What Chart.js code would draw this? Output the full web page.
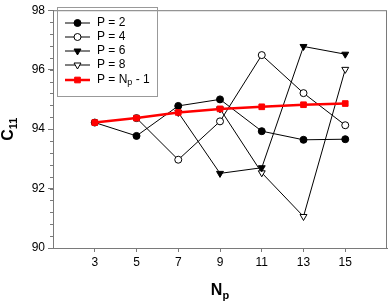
<!DOCTYPE html>
<html>
<head>
<meta charset="utf-8">
<script src="https://cdn.jsdelivr.net/npm/chart.js@4/dist/chart.umd.min.js"></script>
<style>
  body { margin: 0; background: #fff; }
  canvas { display: block; }
</style>
</head>
<body>
<canvas id="c11Chart" width="392" height="303"></canvas>
<script>
// values
const npValues = [3, 5, 7, 9, 11, 13, 15];
const p2 = [94.22, 93.77, 94.78, 95.00, 93.93, 93.64, 93.66];
const p4 = [null, 94.37, 92.97, 94.26, 96.49, 95.21, 94.13];
const p6 = [null, null, 94.56, 92.51, 92.70, 96.78, 96.52];
const p8 = [null, null, null, 94.68, 92.53, 91.06, 96.01];
const pNp = [94.22, 94.37, 94.56, 94.68, 94.75, 94.82, 94.86];
const xTicks = [3, 5, 7, 9, 11, 13, 15];
const yTicks = [90, 92, 94, 96, 98];
const legendLabels = ['P = 2', 'P = 4', 'P = 6', 'P = 8', 'P = N_p - 1'];

const FONT = '"Liberation Sans", Arial, sans-serif';

function toPoints(arr){
   return npValues.map((x, i) => ({x: x, y: arr[i]})).filter(o => o.y !== null);
}

function drawMarker(ctx, ds, x, y){
   ctx.save();
   ctx.fillStyle = ds.pointBackgroundColor;
   ctx.strokeStyle = ds.pointBorderColor;
   ctx.lineWidth = 1;
   const r = ds.pointRadius;
   ctx.beginPath();
   if(ds.pointStyle === 'circle'){
      ctx.arc(x, y, r, 0, Math.PI * 2);
   }
   else if(ds.pointStyle === 'triangle'){
      ctx.moveTo(x - r * 0.866, y - r * 0.5);
      ctx.lineTo(x + r * 0.866, y - r * 0.5);
      ctx.lineTo(x, y + r);
      ctx.closePath();
   }
   else{
      const s = r * Math.SQRT1_2;
      ctx.rect(x - s, y - s, 2 * s, 2 * s);
   }
   ctx.fill();
   ctx.stroke();
   ctx.restore();
}

// draws text with "_xx" meaning subscript xx
function drawSubText(ctx, text, x, y, size, subSize, bold){
   const parts = text.split(/_(\w+)/);
   let cx = x;
   parts.forEach((part, i) => {
      const isSub = i % 2 === 1;
      ctx.font = (bold ? 'bold ' : '') + (isSub ? subSize : size) + 'px ' + FONT;
      ctx.fillText(part, cx, isSub ? y + size * 0.25 : y);
      cx += ctx.measureText(part).width;
   });
   return cx - x;
}

const extrasPlugin = {
   id: 'extras',
   afterDraw(chart){
      const ctx = chart.ctx;
      const area = chart.chartArea;
      const yScale = chart.scales.y;

      // frame
      ctx.save();
      ctx.strokeStyle = '#7a7a7a';
      ctx.lineWidth = 1;
      ctx.strokeRect(area.left + 0.5, area.top + 0.5, area.right - area.left - 1, area.bottom - area.top);

      // minor ticks on y
      for(let v = 90; v <= 98.001; v += 0.4){
         const py = Math.round(yScale.getPixelForValue(v)) + 0.5;
         ctx.beginPath();
         ctx.moveTo(area.left - 3, py);
         ctx.lineTo(area.left, py);
         ctx.stroke();
      }

      // legend box
      ctx.strokeStyle = '#999';
      ctx.strokeRect(57.5, 7.5, 100, 89);
      ctx.textBaseline = 'middle';
      ctx.fillStyle = '#000';
      const rows = [23, 37, 51, 65, 80];
      chart.data.datasets.forEach((ds, i) => {
         const ry = rows[i];
         ctx.strokeStyle = ds.borderColor;
         ctx.lineWidth = ds.borderWidth;
         ctx.beginPath();
         ctx.moveTo(65, ry);
         ctx.lineTo(90, ry);
         ctx.stroke();
         drawMarker(ctx, ds, 77.5, ry);
         ctx.fillStyle = '#000';
         drawSubText(ctx, legendLabels[i], 97, ry, 12, 9, false);
      });

      // axis titles
      ctx.textBaseline = 'alphabetic';
      ctx.fillStyle = '#000';
      ctx.font = 'bold 16px ' + FONT;
      const nw = ctx.measureText('N').width;
      ctx.font = 'bold 11px ' + FONT;
      const pw = ctx.measureText('p').width;
      const cx = (area.left + area.right) / 2;
      drawSubText(ctx, 'N_p', cx - (nw + pw) / 2, 295, 16, 11, true);

      ctx.translate(13, (area.top + area.bottom) / 2);
      ctx.rotate(-Math.PI / 2);
      ctx.font = 'bold 16px ' + FONT;
      const cw = ctx.measureText('C').width;
      ctx.font = 'bold 11px ' + FONT;
      const sw = ctx.measureText('11').width;
      drawSubText(ctx, 'C_11', -(cw + sw) / 2, 0, 16, 11, true);
      ctx.restore();
   }
};

const lineStyle = {
   borderColor: '#000',
   borderWidth: 1,
   pointBorderColor: '#000',
   pointBorderWidth: 1,
   tension: 0
};

const datasets = [
   Object.assign({}, lineStyle, {label: legendLabels[0], data: toPoints(p2), pointStyle: 'circle', pointRadius: 3.5, pointBackgroundColor: '#000', order: 2}),
   Object.assign({}, lineStyle, {label: legendLabels[1], data: toPoints(p4), pointStyle: 'circle', pointRadius: 3.5, pointBackgroundColor: '#fff', order: 3}),
   Object.assign({}, lineStyle, {label: legendLabels[2], data: toPoints(p6), pointStyle: 'triangle', pointRotation: 180, pointRadius: 4, pointBackgroundColor: '#000', order: 4}),
   Object.assign({}, lineStyle, {label: legendLabels[3], data: toPoints(p8), pointStyle: 'triangle', pointRotation: 180, pointRadius: 4, pointBackgroundColor: '#fff', order: 5}),
   {
      label: legendLabels[4],
      data: toPoints(pNp),
      borderColor: '#ff0000',
      borderWidth: 2.5,
      pointStyle: 'rect',
      pointRadius: 4,
      pointBackgroundColor: '#ff0000',
      pointBorderColor: '#ff0000',
      pointBorderWidth: 1,
      tension: 0,
      order: 1
   }
];

new Chart(document.getElementById('c11Chart').getContext('2d'), {
   type: 'line',
   data: { datasets: datasets },
   options: {
      responsive: false,
      animation: false,
      devicePixelRatio: 1,
      layout: { padding: { top: 5, right: 1, left: 0, bottom: 0 } },
      plugins: {
         legend: { display: false },
         tooltip: { enabled: false }
      },
      scales: {
         x: {
            type: 'linear',
            min: 1,
            max: 17,
            afterBuildTicks: scale => { scale.ticks = xTicks.map(v => ({value: v})); },
            afterFit: scale => { scale.height = 55; },
            ticks: { color: '#000', font: { family: FONT, size: 12 }, padding: 3, maxRotation: 0 },
            grid: { drawOnChartArea: false, tickLength: 4, color: '#7a7a7a' },
            border: { color: '#7a7a7a' }
         },
         y: {
            min: 90,
            max: 98,
            afterBuildTicks: scale => { scale.ticks = yTicks.map(v => ({value: v})); },
            afterFit: scale => { scale.width = 53; },
            ticks: { color: '#000', font: { family: FONT, size: 12 }, padding: 3 },
            grid: { drawOnChartArea: false, tickLength: 5, color: '#7a7a7a' },
            border: { color: '#7a7a7a' }
         }
      }
   },
   plugins: [extrasPlugin]
});
</script>
</body>
</html>
